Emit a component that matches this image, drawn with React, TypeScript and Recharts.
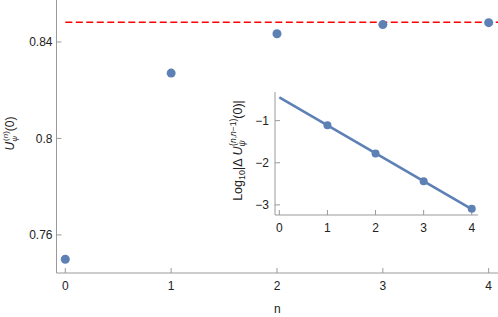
import { ScatterChart, Scatter, XAxis, YAxis, ReferenceLine, Label } from 'recharts'

// main panel: U_psi^(n)(0) against n
const nValues = [0, 1, 2, 3, 4]
const uValues = [0.7499, 0.8271, 0.8434, 0.8472, 0.848]
const uLimit = 0.8482
const mainXTicks = [0, 1, 2, 3, 4]
const mainYTicks = [0.76, 0.8, 0.84]

// inset: log10 of successive differences, with linear fit
const insetN = [1, 2, 3, 4]
const insetLogDiff = [-1.11, -1.78, -2.44, -3.09]
const fitN = [0, 4]
const fitLogDiff = [-0.45, -3.1]
const insetXTicks = [0, 1, 2, 3, 4]
const insetYTicks = [-3, -2, -1]

const mainData = nValues.map((n, i) => ({ n, u: uValues[i] }))
const insetData = insetN.map((n, i) => ({ n, v: insetLogDiff[i] }))
const fitData = fitN.map((n, i) => ({ n, v: fitLogDiff[i] }))

const BLUE = '#5e81b5'
const AXIS = '#9a9a9a'
const TEXT = '#222'
const FONT = '"Liberation Sans", Arial, sans-serif'

const tickStyle = { fontSize: 12, fill: TEXT, fontFamily: FONT }
const minus = (v: number) => (v < 0 ? `\u2212${Math.abs(v)}` : `${v}`)

const Dot = (r: number) => (p: any) => <circle cx={p.cx} cy={p.cy} r={r} fill={BLUE} />

function MainYLabel({ viewBox }: any) {
  const x = viewBox.x + 14
  const y = viewBox.y + viewBox.height / 2 - 3
  return (
    <text transform={`translate(${x},${y}) rotate(-90)`} textAnchor="middle" fontSize={12} fill={TEXT} fontFamily={FONT}>
      <tspan fontStyle="italic">U</tspan>
      <tspan fontSize={8} dy={3} fontStyle="italic">ψ</tspan>
      <tspan fontSize={8} dx={-5} dy={-9}>
        (<tspan fontStyle="italic">n</tspan>)
      </tspan>
      <tspan dy={6}>(0)</tspan>
    </text>
  )
}

function InsetYLabel({ viewBox }: any) {
  const x = viewBox.x + 22
  const y = viewBox.y + viewBox.height / 2 - 3
  return (
    <text transform={`translate(${x},${y}) rotate(-90)`} textAnchor="middle" fontSize={12.5} fill={TEXT} fontFamily={FONT}>
      <tspan>Log</tspan>
      <tspan fontSize={9} dy={3}>10</tspan>
      <tspan dy={-3}>|Δ </tspan>
      <tspan fontStyle="italic">U</tspan>
      <tspan fontSize={8.5} dy={3} fontStyle="italic">ψ</tspan>
      <tspan fontSize={8.5} dx={-5.5} dy={-9}>
        (<tspan fontStyle="italic">n</tspan>,<tspan fontStyle="italic">n</tspan>−1)
      </tspan>
      <tspan dy={6}>(0)|</tspan>
    </text>
  )
}

export default function App() {
  return (
    <div style={{ position: 'absolute', left: 0, top: 0, width: 498, height: 317, background: '#fff', fontFamily: FONT }}>
      <ScatterChart width={498} height={317} margin={{ top: 0, right: 0, bottom: 0, left: 0 }}>
        <XAxis
          type="number"
          dataKey="n"
          domain={[-0.083, 4.088]}
          ticks={mainXTicks}
          interval={0}
          height={44}
          tick={tickStyle}
          tickSize={-5}
          tickMargin={13}
          axisLine={{ stroke: AXIS }}
          tickLine={{ stroke: AXIS }}
        >
          <Label value="n" position="insideBottom" offset={4} fontSize={12} fill={TEXT} fontFamily={FONT} />
        </XAxis>
        <YAxis
          type="number"
          dataKey="u"
          domain={[0.7442, 0.8574]}
          ticks={mainYTicks}
          interval={0}
          width={56.5}
          tick={tickStyle}
          tickSize={-5}
          tickMargin={9}
          axisLine={{ stroke: AXIS }}
          tickLine={{ stroke: AXIS }}
          label={<Label content={(p: any) => <MainYLabel viewBox={p.viewBox} />} />}
        />
        <ReferenceLine
          segment={[{ x: 0, y: uLimit }, { x: 4.088, y: uLimit }]}
          stroke="#ff0000"
          strokeWidth={1.5}
          strokeDasharray="7 3.5"
        />
        <Scatter data={mainData} shape={Dot(4.5)} isAnimationActive={false} />
      </ScatterChart>

      <div style={{ position: 'absolute', left: 220, top: 60 }}>
        <ScatterChart width={270} height={190} margin={{ top: 32, right: 12, bottom: 0, left: 0 }}>
          <XAxis
            type="number"
            dataKey="n"
            domain={[-0.09, 4.13]}
            ticks={insetXTicks}
            interval={0}
            height={35}
            tick={tickStyle}
            tickSize={-5}
            tickMargin={13}
            axisLine={{ stroke: AXIS }}
            tickLine={{ stroke: AXIS }}
          />
          <YAxis
            type="number"
            dataKey="v"
            domain={[-3.24, -0.32]}
            ticks={insetYTicks}
            interval={0}
            width={55}
            tick={tickStyle}
            tickFormatter={minus}
            tickSize={-5}
            tickMargin={11}
            axisLine={{ stroke: AXIS }}
            tickLine={{ stroke: AXIS }}
            label={<Label content={(p: any) => <InsetYLabel viewBox={p.viewBox} />} />}
          />
          <Scatter
            data={fitData}
            line={{ stroke: BLUE, strokeWidth: 2.6 }}
            shape={() => <g />}
            isAnimationActive={false}
          />
          <Scatter data={insetData} shape={Dot(4)} isAnimationActive={false} />
        </ScatterChart>
      </div>
    </div>
  )
}
